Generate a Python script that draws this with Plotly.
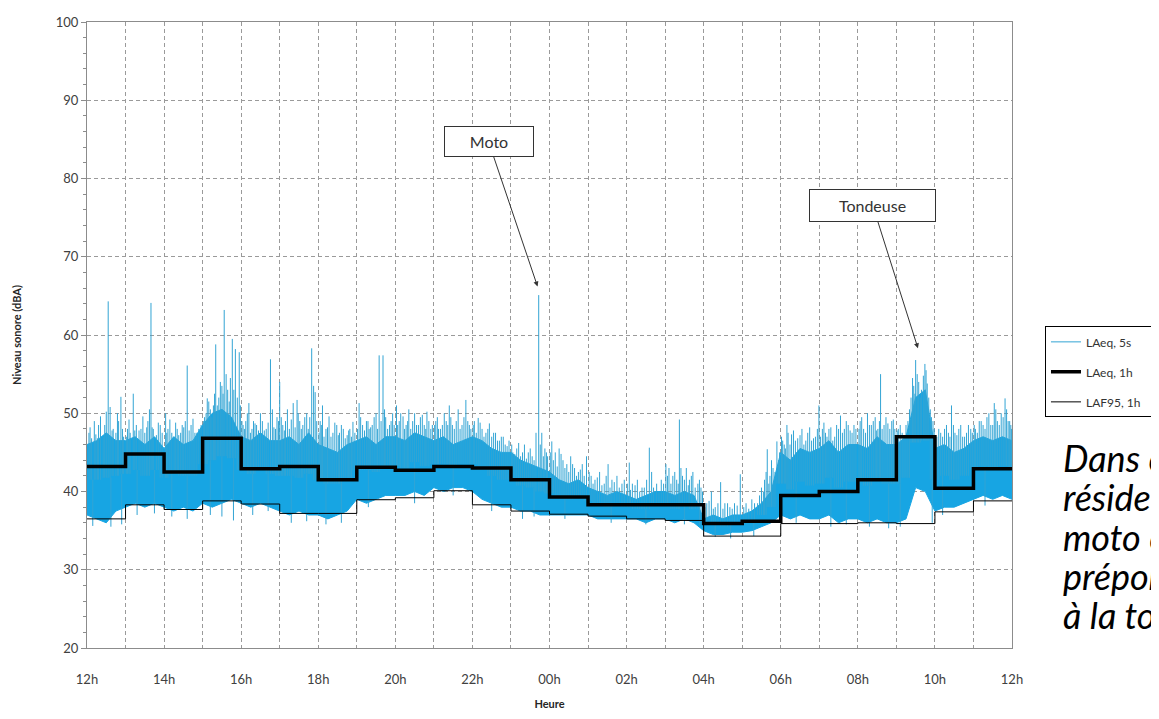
import plotly.graph_objects as go

# ---------------- data ----------------
hours = list(range(25))  # 0 = 12h ... 24 = 12h next day
tick_vals = list(range(0, 25, 2))
tick_text = ["12h", "14h", "16h", "18h", "20h", "22h", "00h", "02h", "04h", "06h", "08h", "10h", "12h"]

laeq_1h = [43.2, 44.8, 42.5, 46.8, 42.9, 43.2, 41.5, 43.1, 42.7, 43.2, 43.0, 41.5,
           39.3, 38.3, 38.3, 38.3, 35.9, 36.2, 39.5, 40.0, 41.5, 47.0, 40.4, 42.9]
laf95_1h = [36.5, 38.3, 37.7, 38.8, 38.4, 37.2, 37.2, 38.95, 39.2, 40.1, 38.3, 37.5,
            37.1, 36.85, 36.5, 36.3, 34.3, 34.3, 35.9, 35.9, 36.0, 35.9, 37.4, 38.8]

# dense LAeq 5s band, sampled every 15 min (upper / lower edge of the dense band)
band_t = [i / 4 for i in range(97)]
band_hi = [46.0, 46.5, 47.5, 46.5, 46.5, 47.0, 46.0, 47.0, 45.5, 47.0, 46.0, 46.5,
           48.5, 50.0, 50.5, 49.5, 47.0, 46.5, 47.5, 46.5, 46.5, 47.0, 46.0, 47.5,
           46.0, 45.5, 45.0, 46.0, 46.5, 47.0, 46.0, 47.0, 47.0, 46.5, 47.5, 47.0,
           46.5, 47.0, 46.0, 46.5, 47.0, 46.5, 45.5, 45.0, 45.0, 44.0, 43.5, 43.0,
           42.5, 41.5, 41.0, 41.5, 40.5, 40.0, 39.5, 40.0, 39.5, 39.0, 39.5, 40.0,
           40.0, 39.5, 40.0, 39.5, 36.5, 37.0, 36.5, 37.0, 37.0, 37.5, 38.5, 40.0,
           45.0, 44.0, 45.5, 45.0, 45.5, 46.5, 45.0, 46.0, 46.0, 45.5, 47.0, 46.0,
           46.0, 47.0, 52.0, 53.0, 45.5, 46.0, 45.0, 45.5, 46.5, 47.0, 46.5, 47.0,
           46.5]
band_lo = [37.0, 36.5, 36.0, 37.5, 38.0, 38.5, 38.0, 38.5, 38.0, 37.5, 38.0, 37.5,
           38.5, 38.0, 38.5, 39.0, 38.5, 38.0, 38.5, 38.0, 37.5, 37.0, 37.5, 37.0,
           37.0, 36.5, 37.0, 37.5, 39.0, 38.5, 39.0, 39.5, 39.5, 39.5, 40.0, 39.5,
           40.5, 40.0, 40.5, 40.5, 40.0, 39.0, 38.5, 38.0, 38.0, 37.5, 37.5, 37.0,
           37.0, 37.0, 37.0, 37.0, 37.0, 36.5, 36.5, 36.5, 36.5, 36.5, 36.0, 36.5,
           36.5, 36.0, 36.5, 36.0, 35.0, 34.5, 34.5, 34.8, 34.8, 35.0, 35.5, 36.0,
           37.0, 36.5, 37.0, 36.5, 36.5, 37.0, 36.0, 36.5, 36.5, 36.0, 36.5, 36.0,
           36.0, 36.5, 40.5, 40.0, 37.5, 38.0, 38.0, 38.5, 39.0, 39.5, 39.0, 39.5,
           39.0]

# individual 5 s peaks (hour since 12h, level)
spike_t = [0.05, 0.12, 0.23, 0.30, 0.35, 0.42, 0.50, 0.55, 0.60, 0.68, 0.75, 0.82, 0.88, 0.95,
           1.05, 1.12, 1.20, 1.28, 1.35, 1.45, 1.55, 1.62, 1.66, 1.72, 1.80, 1.90,
           2.04, 2.10, 2.20, 2.30, 2.38, 2.47, 2.55, 2.60, 2.70, 2.80, 2.90,
           3.05, 3.12, 3.20, 3.28, 3.34, 3.42, 3.50, 3.56, 3.65, 3.72, 3.77, 3.85, 3.95,
           4.05, 4.12, 4.20, 4.28, 4.36, 4.45, 4.55, 4.65, 4.76, 4.85, 4.93,
           5.00, 5.08, 5.15, 5.25, 5.35, 5.45, 5.52, 5.60, 5.70, 5.78, 5.83, 5.88, 5.92,
           6.05, 6.11, 6.20, 6.28, 6.38, 6.48, 6.55, 6.65, 6.75, 6.82, 6.90,
           7.06, 7.15, 7.25, 7.32, 7.40, 7.50, 7.58, 7.63, 7.68, 7.75, 7.85, 7.93,
           8.03, 8.10, 8.20, 8.28, 8.35, 8.45, 8.55, 8.65, 8.75, 8.82, 8.92,
           9.05, 9.12, 9.22, 9.32, 9.40, 9.48, 9.58, 9.68, 9.78, 9.83, 9.92,
           10.05, 10.15, 10.25, 10.35, 10.44, 10.55, 10.65, 10.75, 10.85, 10.95,
           11.05, 11.15, 11.25, 11.35, 11.45, 11.55, 11.65, 11.72, 11.80, 11.88, 11.95,
           12.06, 12.15, 12.25, 12.35, 12.45, 12.55, 12.65, 12.75, 12.85, 12.96,
           13.08, 13.18, 13.30, 13.42, 13.52, 13.62, 13.75, 13.88, 14.07,
           14.15, 14.28, 14.40, 14.52, 14.59, 14.65, 14.78, 14.90,
           15.02, 15.10, 15.20, 15.30, 15.37, 15.45, 15.55, 15.63, 15.72, 15.85, 15.93,
           16.08, 16.20, 16.30, 16.44, 16.55, 16.68, 16.80, 16.95,
           17.10, 17.25, 17.40, 17.50, 17.58, 17.65, 17.72, 17.80, 17.90, 17.97,
           18.05, 18.12, 18.19, 18.28, 18.38, 18.50, 18.60, 18.70, 18.80, 18.90, 18.99,
           19.08, 19.16, 19.25, 19.35, 19.45, 19.55, 19.65, 19.75, 19.85, 19.95,
           20.06, 20.15, 20.25, 20.35, 20.45, 20.52, 20.59, 20.68, 20.78, 20.88, 20.96,
           21.05, 21.15, 21.25, 21.38, 21.45, 21.50, 21.58, 21.65, 21.74, 21.80, 21.88, 21.95,
           22.05, 22.15, 22.25, 22.35, 22.43, 22.52, 22.62, 22.72, 22.82, 22.93,
           23.05, 23.15, 23.25, 23.35, 23.45, 23.54, 23.62, 23.72, 23.82, 23.90, 23.97,
           # downward dips
           0.15, 0.62, 0.90, 1.30, 1.75, 2.20, 2.60, 3.20, 3.50, 3.80, 4.30, 4.70,
           5.30, 5.70, 6.20, 6.60, 7.30, 8.50, 9.50, 10.50, 11.30, 11.60, 12.40,
           13.60, 14.50, 15.50, 16.30, 16.70, 17.30, 18.40, 19.30, 19.70, 20.30,
           20.80, 21.10, 21.93, 22.20, 23.30]
spike_v = [47.5, 46.8, 47.3, 48.5, 49.6, 47.0, 50.2, 64.3, 50.8, 48.0, 47.5, 49.0, 52.1, 47.0,
           48.0, 47.5, 52.5, 48.5, 47.8, 49.6, 48.2, 50.5, 64.1, 48.0, 47.2, 48.5,
           50.0, 48.0, 47.5, 48.8, 47.2, 48.5, 49.0, 56.1, 48.5, 47.5, 48.0,
           49.5, 51.9, 50.5, 51.0, 58.8, 52.0, 53.5, 63.2, 53.0, 54.5, 59.5, 58.2, 57.8,
           48.5, 49.0, 51.3, 48.0, 48.7, 47.8, 49.0, 48.0, 56.9, 48.2, 49.5,
           54.0, 48.5, 49.0, 48.0, 51.3, 51.7, 49.0, 48.5, 50.0, 49.5, 58.3, 53.5, 52.7,
           49.0, 51.0, 48.0, 49.6, 47.5, 48.5, 47.5, 48.0, 47.2, 48.0, 48.9,
           51.3, 48.5, 49.0, 48.0, 48.5, 50.0, 57.4, 49.0, 57.4, 49.5, 48.5, 50.0,
           51.0, 49.0, 49.6, 48.5, 50.5, 49.0, 48.5, 49.5, 48.5, 50.2, 48.0,
           49.0, 48.0, 48.5, 49.0, 51.0, 48.5, 49.0, 48.0, 49.5, 51.7, 48.5,
           49.0, 49.4, 48.0, 47.5, 48.7, 47.5, 46.5, 47.0, 46.0, 46.5,
           45.0, 45.5, 44.5, 46.0, 45.0, 44.5, 47.5, 65.1, 47.5, 45.5, 44.5,
           46.4, 45.0, 45.5, 44.0, 43.5, 44.5, 43.0, 42.5, 43.5, 44.5,
           42.0, 41.5, 42.5, 41.0, 43.5, 41.5, 42.0, 41.0, 43.7,
           41.0, 41.5, 40.5, 41.5, 45.6, 42.5, 41.0, 41.5,
           43.5, 43.0, 42.0, 41.5, 49.2, 42.0, 43.0, 41.5, 42.5, 41.0, 40.5,
           38.5, 40.0, 38.0, 41.2, 38.5, 38.0, 38.5, 42.2,
           38.5, 39.0, 38.5, 40.5, 41.5, 45.4, 42.0, 43.0, 46.4, 45.0,
           46.5, 45.5, 47.5, 47.3, 46.5, 47.2, 46.0, 47.5, 46.5, 47.0, 51.0,
           48.0, 47.5, 48.0, 46.5, 48.5, 49.7, 48.0, 48.5, 47.5, 48.0,
           49.0, 48.0, 50.0, 48.5, 49.5, 48.0, 55.0, 48.5, 48.7, 49.0, 48.0,
           48.0, 47.5, 48.5, 52.0, 53.5, 56.8, 54.0, 53.0, 56.3, 53.8, 50.5, 49.0,
           47.0, 47.5, 48.0, 47.5, 51.0, 47.5, 48.0, 47.0, 47.5, 48.0,
           48.0, 49.0, 48.5, 49.5, 48.5, 51.3, 49.0, 50.0, 51.9, 49.0, 48.5,
           35.6, 35.5, 35.8, 37.0, 37.2, 36.8, 36.5, 37.0, 36.8, 36.3, 37.0, 37.5,
           36.0, 36.2, 35.8, 36.0, 38.0, 38.5, 39.5, 37.5, 36.5, 36.8, 36.5,
           36.0, 35.8, 35.8, 34.2, 34.0, 34.3, 36.0, 35.5, 35.8, 35.5,
           35.3, 35.5, 36.0, 37.0, 38.2]

# smaller 5 s fluctuations above the dense band
minor_t = [0.08, 0.19, 0.27, 0.46, 0.65, 0.79, 0.92,
           1.02, 1.09, 1.24, 1.40, 1.50, 1.58, 1.69, 1.85, 1.95,
           2.07, 2.15, 2.26, 2.34, 2.43, 2.51, 2.65, 2.75, 2.85, 2.96,
           3.02, 3.09, 3.16, 3.24, 3.31, 3.38, 3.46, 3.53, 3.61, 3.69, 3.81, 3.90, 3.98,
           4.02, 4.09, 4.16, 4.24, 4.32, 4.40, 4.50, 4.60, 4.70, 4.81, 4.89, 4.97,
           5.04, 5.12, 5.20, 5.30, 5.40, 5.48, 5.56, 5.65, 5.74, 5.96,
           6.02, 6.08, 6.15, 6.24, 6.33, 6.43, 6.52, 6.60, 6.70, 6.79, 6.86, 6.95,
           7.02, 7.10, 7.20, 7.29, 7.36, 7.45, 7.54, 7.72, 7.80, 7.89, 7.97,
           8.06, 8.14, 8.24, 8.32, 8.40, 8.50, 8.60, 8.70, 8.79, 8.87, 8.96,
           9.02, 9.09, 9.17, 9.27, 9.36, 9.44, 9.53, 9.63, 9.73, 9.88, 9.96,
           10.02, 10.10, 10.20, 10.30, 10.40, 10.50, 10.60, 10.70, 10.80, 10.90,
           11.02, 11.10, 11.20, 11.30, 11.40, 11.50, 11.60, 11.76, 11.84, 11.92,
           12.02, 12.10, 12.20, 12.30, 12.40, 12.50, 12.60, 12.70, 12.80, 12.90,
           13.03, 13.13, 13.24, 13.36, 13.47, 13.57, 13.68, 13.81, 13.94,
           14.02, 14.10, 14.22, 14.34, 14.46, 14.70, 14.84, 14.96,
           15.06, 15.15, 15.25, 15.34, 15.41, 15.50, 15.60, 15.68, 15.78, 15.89, 15.97,
           16.03, 16.14, 16.25, 16.37, 16.50, 16.62, 16.74, 16.87,
           17.04, 17.17, 17.32, 17.45, 17.55, 17.62, 17.69, 17.76, 17.85, 17.94,
           18.02, 18.09, 18.16, 18.24, 18.33, 18.44, 18.55, 18.65, 18.75, 18.85, 18.95,
           19.03, 19.12, 19.20, 19.30, 19.40, 19.50, 19.60, 19.70, 19.80, 19.90,
           20.03, 20.10, 20.20, 20.30, 20.40, 20.48, 20.56, 20.63, 20.73, 20.83, 20.92,
           21.02, 21.10, 21.20, 21.30, 21.34, 21.42, 21.48, 21.54, 21.62, 21.70, 21.77, 21.84, 21.91, 21.98,
           22.02, 22.10, 22.20, 22.30, 22.39, 22.48, 22.57, 22.67, 22.77, 22.87, 22.97,
           23.02, 23.10, 23.20, 23.30, 23.40, 23.50, 23.58, 23.67, 23.77, 23.86, 23.94, 23.99]
minor_v = [48.2, 49.0, 46.8, 48.5, 47.8, 50.0, 48.0,
           47.0, 49.2, 47.8, 48.0, 47.5, 49.0, 48.2, 48.8, 47.5,
           47.5, 49.2, 47.0, 48.0, 47.5, 48.2, 47.8, 49.3, 47.5, 48.5,
           49.0, 50.0, 51.5, 49.5, 52.5, 51.0, 54.0, 52.5, 55.0, 51.5, 53.0, 52.0, 51.0,
           49.0, 48.0, 50.0, 47.5, 49.0, 48.5, 50.0, 47.8, 48.8, 50.5, 48.0, 49.0,
           49.5, 47.8, 50.5, 49.2, 48.2, 50.0, 48.0, 49.5, 48.0, 49.0,
           47.5, 48.5, 47.0, 48.2, 47.0, 48.8, 47.2, 48.5, 46.8, 47.8, 47.0, 47.5,
           48.0, 49.5, 47.8, 49.0, 48.2, 49.5, 48.0, 50.5, 48.0, 49.0, 48.5,
           48.5, 50.0, 48.0, 49.0, 48.0, 50.0, 48.5, 49.8, 48.0, 49.0, 48.5,
           48.5, 49.5, 48.0, 50.0, 48.5, 49.5, 48.0, 50.5, 48.5, 49.0, 48.0,
           48.5, 47.5, 48.8, 47.0, 48.0, 47.0, 47.5, 46.5, 47.0, 45.8,
           46.0, 44.8, 46.2, 45.0, 44.2, 45.5, 44.0, 46.0, 44.5, 45.0,
           45.0, 44.0, 43.2, 44.8, 43.0, 42.5, 43.5, 42.0, 42.8, 42.0,
           42.5, 41.0, 41.8, 40.8, 42.0, 40.5, 41.2, 40.5, 41.5,
           41.0, 40.2, 40.8, 40.0, 40.5, 40.5, 40.0, 41.0,
           42.0, 41.0, 42.5, 41.0, 43.0, 41.5, 40.8, 42.0, 40.5, 41.5, 40.0,
           38.0, 38.8, 37.8, 38.5, 37.8, 38.5, 37.8, 38.2,
           38.0, 37.8, 38.5, 39.5, 40.0, 42.5, 41.0, 44.0, 42.5, 44.0,
           47.0, 46.0, 48.5, 46.0, 47.8, 46.8, 48.0, 46.5, 48.2, 46.8, 48.0,
           47.0, 48.8, 47.0, 48.2, 47.0, 48.0, 47.5, 49.0, 47.8, 48.5,
           48.0, 49.5, 47.5, 48.5, 49.0, 47.8, 49.0, 48.0, 49.5, 48.0, 49.2,
           47.8, 48.5, 47.0, 49.0, 50.5, 54.5, 52.5, 55.0, 52.0, 54.8, 55.5, 52.0, 49.5, 48.0,
           46.0, 48.0, 47.0, 48.5, 47.0, 48.5, 47.2, 48.5, 47.0, 48.5, 47.5,
           48.5, 47.5, 49.0, 48.0, 50.0, 48.5, 50.5, 48.5, 49.5, 50.5, 49.0, 48.0]

# ---------------- figure ----------------
BLUE = "#17a5e3"
SPIKE = "#32a4d4"
FONT = "Lato"
# page is drawn with an 8 px body margin: plot area wanted at page x 86.5-1012, y 13.5-648
ML, MR, MT, MB = 78.5, 155, 5.5, 79
PW = 1159 - ML - MR
PH = 719 - MT - MB


def px_to_paper(xp, yp):
    return (xp - 8 - ML) / PW, (719 - MB - (yp - 8)) / PH


band_mid = [(a + b) / 2 for a, b in zip(band_hi, band_lo)]
sx, sy = [], []
for t, v in zip(spike_t + minor_t, spike_v + minor_v):
    base = band_mid[min(96, int(round(t * 4)))]
    sx += [t, t, None]
    sy += [base, v, None]

fig = go.Figure()
fig.add_trace(go.Scatter(x=band_t, y=band_lo, mode="lines", line=dict(color=BLUE, width=1),
                         showlegend=False, hoverinfo="skip"))
fig.add_trace(go.Scatter(x=band_t, y=band_hi, mode="lines", line=dict(color=BLUE, width=1),
                         fill="tonexty", fillcolor=BLUE, showlegend=False, hoverinfo="skip"))
fig.add_trace(go.Scatter(x=sx, y=sy, mode="lines", line=dict(color=SPIKE, width=1),
                         name="LAeq, 5s", legendrank=1, legendgroup="a"))
fig.add_trace(go.Scatter(x=hours, y=laf95_1h + [laf95_1h[-1]], mode="lines", line_shape="hv",
                         line=dict(color="#000000", width=1), name="LAF95, 1h\u00a0\u00a0\u00a0\u00a0",
                         legendrank=3, legendgroup="c"))
fig.add_trace(go.Scatter(x=hours, y=laeq_1h + [laeq_1h[-1]], mode="lines", line_shape="hv",
                         line=dict(color="#000000", width=3.5), name="LAeq, 1h",
                         legendrank=2, legendgroup="b"))

grid = dict(showgrid=True, gridcolor="#9a9a9a", gridwidth=1, griddash="4px,3px")

lx, ly = px_to_paper(1045, 322)
fig.update_layout(
    width=1159, height=719,
    margin=dict(l=ML, r=MR, t=MT, b=MB),
    paper_bgcolor="white", plot_bgcolor="white",
    font=dict(family=FONT, size=13, color="#404040"),
    showlegend=True,
    legend=dict(x=lx, xanchor="left", y=ly, yanchor="top",
                bordercolor="#000000", borderwidth=1, bgcolor="white",
                font=dict(family=FONT, size=12, color="#333333"),
                tracegroupgap=11, itemwidth=30),
    xaxis=dict(range=[0, 24], tickvals=tick_vals, ticktext=tick_text,
               showline=True, linecolor="#8c8c8c", linewidth=1, mirror=True,
               ticks="", zeroline=False, ticklabelstandoff=19,
               minor=dict(dtick=1, showgrid=True, gridcolor="#9a9a9a", griddash="4px,3px"),
               title=dict(text="<b>Heure</b>", font=dict(family=FONT, size=11, color="#262626"),
                          standoff=14),
               **grid),
    yaxis=dict(range=[20, 100], dtick=10, showline=True, linecolor="#8c8c8c", linewidth=1,
               mirror=True, ticks="outside", ticklen=5, tickcolor="#8c8c8c", zeroline=False,
               ticklabeloverflow="allow",
               minor=dict(dtick=2, ticks="outside", ticklen=3, tickcolor="#8c8c8c", showgrid=False),
               title=dict(text="<b>Niveau sonore (dBA)</b>",
                          font=dict(family=FONT, size=11, color="#262626"), standoff=31),
               **grid),
)

box = dict(font=dict(family=FONT, size=16, color="#333333"), bordercolor="#333333",
           borderwidth=1, bgcolor="white", showarrow=True, arrowhead=2, arrowsize=1,
           arrowwidth=1, arrowcolor="#333333", xref="x", yref="y", axref="x", ayref="y")
fig.add_annotation(text="Moto", x=11.69, y=66.2, ax=10.42, ay=84.7, width=86, height=27, **box)
fig.add_annotation(text="Tondeuse", x=21.56, y=58.3, ax=20.39, ay=76.5, width=123, height=29, **box)

side_lines = ["Dans ce quartier", "résidentiel, la", "moto et la tondeuse", "prépondèrent", "à la tombée du jour"]
for i, s in enumerate(side_lines):
    tx, ty = px_to_paper(1061, 455 + 40 * i)
    fig.add_annotation(text="<i>" + s + "</i>", xref="paper", yref="paper", x=tx, y=ty,
                       xanchor="left", yanchor="middle", showarrow=False,
                       font=dict(family=FONT, size=36, color="#000000"))

fig.write_html("out.html")
